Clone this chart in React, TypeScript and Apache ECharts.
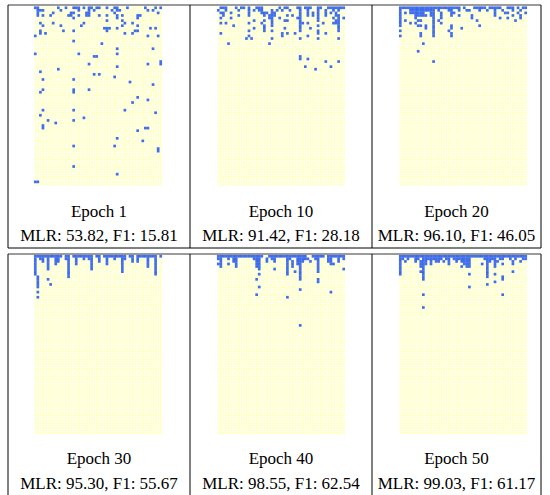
import React, { useEffect, useRef } from "react";
import * as echarts from "echarts";

// Grid size of every map (columns x rows)
const COLS = 50;
const ROWS = 70;

// Panel titles and scores
const epochs = ["Epoch 1", "Epoch 10", "Epoch 20", "Epoch 30", "Epoch 40", "Epoch 50"];
const mlr = ["53.82", "91.42", "96.10", "95.30", "98.55", "99.03"];
const f1 = ["15.81", "28.18", "46.05", "55.67", "62.54", "61.17"];

const range = (a: number, b: number) => Array.from({ length: b - a + 1 }, (_, i) => a + i);

// Blue cells, per panel: [row, [columns]]
const epoch1Rows: [number, number[]][] = [
  [0, [0, 1, 9, 12, 15, 16, 17, 19, 21, 22, 24, 25, 28, 31, 32, 36, 43, 47, 49]],
  [1, [1, 2, 3, 10, 17, 21, 23, 30, 32, 33, 44, 46]],
  [2, [1, 7, 14, 15, 20, 21, 31, 48]],
  [3, [1, 3, 6, 13, 14, 17, 20, 21, 25, 28, 32, 34, 40, 41]],
  [4, [15, 32, 40]],
  [5, [28, 34]],
  [6, [2, 7, 19, 35, 38]],
  [7, [3, 10, 18, 34, 40]],
  [8, [27, 28, 29, 32, 45, 47]],
  [9, [2, 11, 15, 28, 39, 40]],
  [10, [2, 4, 35, 38]],
  [11, [0, 44, 48]],
  [13, [15]],
  [14, [26]],
  [16, [32, 46]],
  [18, [0, 17, 32]],
  [19, [23, 24]],
  [21, [49]],
  [22, [21, 44, 49]],
  [23, [32]],
  [24, [9]],
  [25, [2]],
  [26, [23, 25]],
  [27, [31]],
  [28, [3, 15]],
  [29, [37]],
  [30, [46]],
  [32, [3, 15, 21]],
  [33, [2, 15]],
  [35, [40]],
  [36, [44]],
  [37, [38]],
  [40, [3, 15, 35]],
  [41, [47]],
  [42, [2]],
  [43, [19]],
  [44, [5, 15]],
  [45, [8]],
  [46, [3]],
  [47, [3, 43, 44]],
  [48, [40]],
  [51, [32]],
  [52, [42]],
  [54, [15, 31]],
  [55, [48]],
  [56, [48]],
  [62, [15]],
  [65, [32]],
  [68, [0, 1]],
];

const epoch10Rows: [number, number[]][] = [
  [0, [1, 2, 3, 7, 9, 10, 12, 15, 16, 17, 24, 26, 27, 31, 32, 34, 35, 36, 39, 40, 43, 44, 45, 46, 47, 48, 49]],
  [1, [0, 3, 8, 12, 14, 16, 17, 21, 23, 25, 28, 32, 35, 39, 42, 45, 47]],
  [2, [1, 2, 5, 12, 17, 18, 19, 21, 22, 32, 35, 37, 39, 42, 44, 46]],
  [3, [2, 8, 12, 18, 20, 21, 22, 27, 29, 32, 35, 37, 39, 42, 46, 47]],
  [4, [1, 5, 20, 21, 24, 31, 32, 39, 45, 47, 49]],
  [5, [14, 18, 21, 26, 27, 32, 39, 46, 47]],
  [6, [1, 3, 12, 17, 21, 32, 33, 35, 41, 45, 46, 47]],
  [7, [6, 18, 21, 32, 39, 47]],
  [8, [14, 18, 26, 32, 36, 47]],
  [9, [12, 18, 21, 32, 39, 47]],
  [10, [1, 25, 27, 30, 39, 42]],
  [11, [12, 25, 35]],
  [12, [11, 13, 21, 32, 39, 47]],
  [14, [4, 20]],
  [19, [32]],
  [20, [32, 35]],
  [21, [42, 47]],
  [23, [34, 44]],
  [24, [38]],
];

const epoch20Rows: [number, number[]][] = [
  [0, [...range(0, 23), 25, ...range(29, 33), ...range(35, 39), 42, 43, 44, 46, 48, 49]],
  [1, [0, ...range(4, 13), 15, 19, 20, 23, 26, 27, 31, 34, 37, 40, 44, 47]],
  [2, [0, 2, ...range(4, 9), 12, 13, 16, 20, 21, 37, 41, 42, 46, 49]],
  [3, [0, 6, 7, 8, 9, 10, 12, 13, 16, 20, 23, 28, 37, 44, 47]],
  [4, [0, 6, 13, 16, 28, 39, 42, 47]],
  [5, [0, 2, 7, 8, 13, 15, 30, 45]],
  [6, [0, 4, 6, 13, 16]],
  [7, [0, 7, 8, 10, 13, 20, 31]],
  [8, [10, 13, 20, 24]],
  [9, [0, 13, 19]],
  [10, [8, 13, 20]],
  [11, [0, 8, 13, 20]],
  [14, [9]],
  [17, [7]],
  [21, [13]],
];

const epoch30Rows: [number, number[]][] = [
  [0, [...range(0, 10), 12, 13, ...range(15, 22), 24, 25, ...range(27, 35), 37, 38, ...range(40, 47), 49]],
  [1, [0, 2, 3, 5, 8, 9, 12, 13, 16, 19, 21, 22, 25, 28, 31, 34, 35, 38, 40, 44, 47]],
  [2, [0, 3, 5, 8, 9, 13, 16, 22, 25, 28, 34, 38, 40, 44, 47]],
  [3, [0, 5, 8, 13, 16, 22, 28, 34, 44, 47]],
  [4, [0, 5, 13, 22, 34, 44, 47]],
  [5, [0, 5, 13, 22, 34, 47]],
  [6, [0, 13, 34, 47]],
  [7, [0, 13, 47]],
  [8, [1, 13]],
  [9, [1, 5]],
  [10, [1]],
  [11, [1, 6]],
  [12, [1]],
  [14, [1]],
  [16, [1]],
];

const epoch40Rows: [number, number[]][] = [
  [0, [...range(0, 17), ...range(20, 34), ...range(37, 41), ...range(43, 49)]],
  [1, [0, 1, 4, 6, 7, 14, 15, 16, 19, 21, 22, 27, 28, 31, 32, 33, 34, 35, 38, 39, 43, 44, 47, 49]],
  [2, [1, 6, 7, 15, 16, 19, 22, 27, 29, 31, 32, 33, 36, 39, 43, 44, 47]],
  [3, [0, 1, 4, 7, 15, 16, 27, 29, 31, 32, 39, 44, 45]],
  [4, [1, 7, 15, 16, 27, 29, 32, 39]],
  [5, [16, 22, 27, 32, 39, 49]],
  [6, [27, 30, 32, 39]],
  [7, [16, 27, 32]],
  [8, [32]],
  [9, [15, 32, 39]],
  [10, [39]],
  [12, [16]],
  [13, [32]],
  [14, [44]],
  [15, [15]],
  [16, [27]],
  [27, [32]],
];

const epoch50Rows: [number, number[]][] = [
  [0, range(0, 49)],
  [1, [0, 1, 3, 6, 7, ...range(9, 16), 18, 19, ...range(21, 27), ...range(33, 37), 39, 40, 43, 45, 48, 49]],
  [2, [0, 2, 6, 8, 9, 10, 12, 14, 15, 17, 19, 22, 24, 25, 26, 27, 34, 35, 37, 38, 44, 47]],
  [3, [0, 8, 9, 10, 12, 19, 25, 26, 27, 32, 34, 37, 40, 44]],
  [4, [0, 8, 9, 24, 26, 27, 34, 37]],
  [5, [0, 9, 34]],
  [6, [0, 8, 9, 34, 44]],
  [7, [0, 9, 27, 34, 37]],
  [8, [9, 34, 40]],
  [9, [9, 40]],
  [10, [37]],
  [11, [34]],
  [12, [27]],
  [15, [9, 40]],
  [20, [9]],
];

const panelRows = [epoch1Rows, epoch10Rows, epoch20Rows, epoch30Rows, epoch40Rows, epoch50Rows];

// Layout (pixels)
const panelLeft = [34, 217, 399];
const panelTop = [6.5, 255];
const CELL = 2.56;
const colCenter = [99, 281, 456.5];
const titleY = [211, 458];
const scoreY = [235, 483];

export default function App() {
  const ref = useRef<HTMLDivElement>(null);

  useEffect(() => {
    if (!ref.current) return;
    const chart = echarts.init(ref.current, null, { renderer: "svg" });
    const xCats = Array.from({ length: COLS }, (_, i) => String(i));
    const yCats = Array.from({ length: ROWS }, (_, i) => String(i));

    const grids: any[] = [];
    const xAxes: any[] = [];
    const yAxes: any[] = [];
    const series: any[] = [];
    const graphics: any[] = [];

    panelRows.forEach((rows, i) => {
      const c = i % 3;
      const r = Math.floor(i / 3);
      grids.push({
        left: panelLeft[c],
        top: panelTop[r],
        width: COLS * CELL,
        height: ROWS * CELL,
        show: true,
        backgroundColor: "#ffffc8",
        borderWidth: 0,
      });
      const axisCommon = {
        gridIndex: i,
        axisLine: { show: false },
        axisTick: { show: false },
        axisLabel: { show: false },
        splitLine: { show: true, interval: 0, lineStyle: { color: "#ffffff", width: 0.5 } },
      };
      xAxes.push({ type: "category", data: xCats, ...axisCommon });
      yAxes.push({ type: "category", data: yCats, inverse: true, ...axisCommon });
      const data: [number, number][] = [];
      rows.forEach(([row, cols]) => cols.forEach((col) => data.push([col, row])));
      series.push({
        type: "scatter",
        xAxisIndex: i,
        yAxisIndex: i,
        symbol: "rect",
        symbolSize: 2.7,
        itemStyle: { color: "#1048f0" },
        emphasis: { disabled: true },
        data,
      });
      graphics.push({
        type: "text",
        x: colCenter[c],
        y: titleY[r],
        style: {
          text: epochs[i],
          fill: "#000",
          font: '17px "Liberation Serif"',
          textAlign: "center",
          textVerticalAlign: "middle",
        },
      });
      graphics.push({
        type: "text",
        x: colCenter[c],
        y: scoreY[r],
        style: {
          text: `MLR: ${mlr[i]}, F1: ${f1[i]}`,
          fill: "#000",
          font: '17px "Liberation Serif"',
          textAlign: "center",
          textVerticalAlign: "middle",
        },
      });
    });

    // table rules
    const vx = [8, 190, 372, 541];
    vx.forEach((x) => {
      graphics.push({ type: "line", shape: { x1: x, y1: 5, x2: x, y2: 248 }, style: { stroke: "#000", lineWidth: 1 } });
      graphics.push({ type: "line", shape: { x1: x, y1: 254, x2: x, y2: 495 }, style: { stroke: "#000", lineWidth: 1 } });
    });
    graphics.push({ type: "line", shape: { x1: 8, y1: 248, x2: 541, y2: 248 }, style: { stroke: "#000", lineWidth: 1 } });
    [5, 254].forEach((y) => {
      graphics.push({ type: "line", z: -1, shape: { x1: 8, y1: y, x2: 541, y2: y }, style: { stroke: "#7a7a7a", lineWidth: 1.6 } });
    });

    chart.setOption({
      animation: false,
      backgroundColor: "#ffffff",
      grid: grids,
      xAxis: xAxes,
      yAxis: yAxes,
      series,
      graphic: { elements: graphics },
    });
    return () => chart.dispose();
  }, []);

  return <div ref={ref} style={{ position: "fixed", left: 0, top: 0, width: 550, height: 495 }} />;
}
